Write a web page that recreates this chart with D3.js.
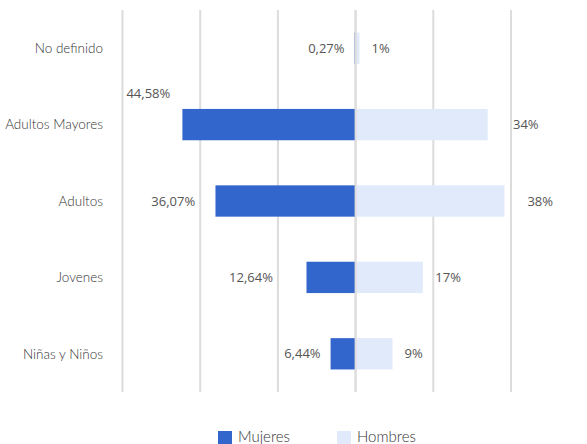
<!DOCTYPE html>
<html>
<head>
  <meta charset="utf-8">
  <title>Mujeres y Hombres por grupo de edad</title>
  <script src="https://cdn.jsdelivr.net/npm/d3@7"></script>
  <style>
    body { margin:0; background:white; }
    text { font-family: "Open Sans", sans-serif; }
    .cat { font-family: Lato, sans-serif; font-size:13.5px; font-weight:300; fill:#333; }
    .val { font-size:13px; fill:#555; }
    .leg { font-family: Lato, sans-serif; font-size:15px; font-weight:300; fill:#333; }
  </style>
</head>
<body>
<div id="chart"></div>
<script>
  var categories = ["No definido", "Adultos Mayores", "Adultos", "Jovenes", "Niñas y Niños"];
  var mujeres = [0.27, 44.58, 36.07, 12.64, 6.44];
  var hombres = [1, 34, 38.3, 17.3, 9.5];
  var hombresLabels = ["1%", "34%", "38%", "17%", "9%"];
  var gridTicks = [-60, -40, -20, 0, 20, 40];
  var series = ["Mujeres", "Hombres"];
  var colors = ["#3366cc", "#e1eafa"];

  var w = 587, h = 444;
  var svg = d3.select('#chart').append('svg')
    .attr('width', w).attr('height', h);

  var x = d3.scaleLinear().domain([-60, 40]).range([122.5, 511]);
  var y = d3.scaleBand().domain(categories).range([10, 392]).paddingInner(0.59).paddingOuter(0.295);

  // grid
  svg.selectAll('line.grid')
    .data(gridTicks)
    .enter().append('line')
      .attr('class', 'grid')
      .attr('x1', function(d) { return x(d); })
      .attr('x2', function(d) { return x(d); })
      .attr('y1', 10).attr('y2', 392)
      .attr('stroke', '#dcdcdc').attr('stroke-width', 2);

  // category labels
  svg.selectAll('text.cat')
    .data(categories)
    .enter().append('text')
      .attr('class', 'cat')
      .attr('x', 103)
      .attr('y', function(d) { return y(d) + y.bandwidth()/2; })
      .attr('dy', '0.35em')
      .attr('text-anchor', 'end')
      .text(function(d) { return d; });

  var fmt = function(v) { return d3.format('.2f')(v).replace('.', ',') + '%'; };

  // mujeres bars (left)
  svg.selectAll('rect.muj')
    .data(mujeres)
    .enter().append('rect')
      .attr('class', 'muj')
      .attr('x', function(d) { return x(-d); })
      .attr('y', function(d, i) { return y(categories[i]); })
      .attr('width', function(d) { return x(0) - x(-d); })
      .attr('height', y.bandwidth())
      .attr('fill', colors[0]);

  // hombres bars (right)
  svg.selectAll('rect.hom')
    .data(hombres)
    .enter().append('rect')
      .attr('class', 'hom')
      .attr('x', x(0))
      .attr('y', function(d, i) { return y(categories[i]); })
      .attr('width', function(d) { return x(d) - x(0); })
      .attr('height', y.bandwidth())
      .attr('fill', colors[1]);

  // center line over bars
  svg.append('line')
    .attr('x1', x(0)).attr('x2', x(0)).attr('y1', 10).attr('y2', 392)
    .attr('stroke', '#dcdcdc').attr('stroke-width', 2);

  // mujeres labels
  mujeres.forEach(function(d, i) {
    var cy = y(categories[i]) + y.bandwidth()/2;
    var t = svg.append('text').attr('class', 'val').text(fmt(d));
    if (d > 40) {
      t.attr('x', x(-d) - 56).attr('y', cy - 27);
      return;
    }
    var end = x(-d) - 10;
    var tw = t.node().getComputedTextLength();
    gridTicks.forEach(function(g) {
      var gx = x(g);
      if (g !== 0 && gx > end - tw - 2 && gx < end + 2) end = gx - 5;
    });
    t.attr('x', end).attr('y', cy).attr('dy', '0.35em').attr('text-anchor', 'end');
  });

  // hombres labels
  hombres.forEach(function(d, i) {
    var cy = y(categories[i]) + y.bandwidth()/2;
    var t = svg.append('text').attr('class', 'val').text(hombresLabels[i]);
    var start = x(d) + (d > 30 ? 23 : 12);
    var tw = t.node().getComputedTextLength();
    gridTicks.forEach(function(g) {
      var gx = x(g);
      if (g !== 0 && gx > start - 2 && gx < start + tw + 2) start = gx + 2;
    });
    t.attr('x', start).attr('y', cy).attr('dy', '0.35em');
  });

  // legend
  var legX = [218, 337];
  series.forEach(function(s, i) {
    svg.append('rect')
      .attr('x', legX[i]).attr('y', 431)
      .attr('width', 14).attr('height', 14)
      .attr('fill', colors[i]);
    svg.append('text')
      .attr('class', 'leg')
      .attr('x', legX[i] + 20).attr('y', 442)
      .text(s);
  });
</script>
</body>
</html>
